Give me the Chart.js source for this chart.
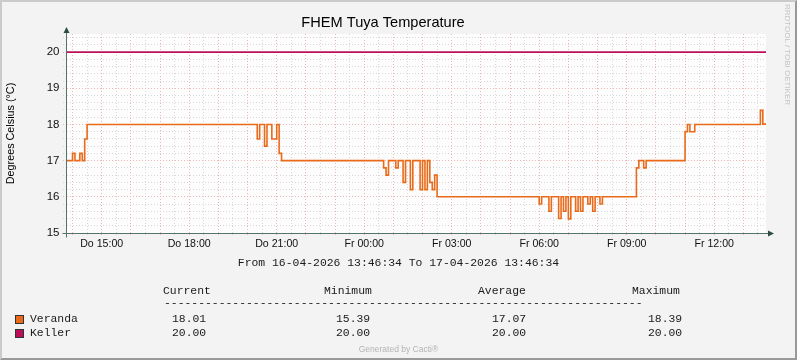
<!DOCTYPE html>
<html lang="de">
<head>
    <meta charset="UTF-8">
    <title>FHEM Tuya Temperature</title>
    <script src="https://cdn.jsdelivr.net/npm/chart.js"></script>
    <style>
        body {
            margin: 0;
            background-color: #f3f3f3;
        }
        #wrap {
            position: relative;
            width: 797px;
            height: 360px;
            overflow: hidden;
            background-color: #f3f3f3;
        }
        #chart {
            position: absolute;
            left: 0;
            top: 0;
        }
        .frame {
            position: absolute;
            left: 0;
            top: 0;
            width: 797px;
            height: 360px;
            box-sizing: border-box;
            border-top: 2px solid #cbcbcb;
            border-left: 2px solid #cbcbcb;
            border-right: 2px solid #999999;
            border-bottom: 2px solid #999999;
            pointer-events: none;
        }
        .mono {
            position: absolute;
            font-family: "Liberation Mono", "DejaVu Sans Mono", monospace;
            font-size: 11.4px;
            line-height: 14px;
            height: 14px;
            color: #1a1a1a;
            white-space: pre;
        }
        .swatch {
            position: absolute;
            width: 7px;
            height: 7px;
            border: 1px solid #333;
        }
        #cacti {
            position: absolute;
            left: 0;
            width: 797px;
            top: 344px;
            text-align: center;
            font-family: "Liberation Sans", Arial, sans-serif;
            font-size: 8.5px;
            line-height: 10px;
            color: #b4b4b4;
        }
        #rrd {
            position: absolute;
            left: 783px;
            top: 4px;
            writing-mode: vertical-rl;
            font-family: "Liberation Sans", Arial, sans-serif;
            font-size: 8px;
            line-height: 9px;
            color: #c4c4c4;
        }
    </style>
</head>
<body>
<div id="wrap">
    <canvas id="chart" width="797" height="360"></canvas>

    <div class="mono" style="left:0; width:797px; text-align:center; top:256px;">From 16-04-2026 13:46:34 To 17-04-2026 13:46:34</div>

    <div class="mono" style="left:163px; top:284px;">Current</div>
    <div class="mono" style="left:324px; top:284px;">Minimum</div>
    <div class="mono" style="left:478px; top:284px;">Average</div>
    <div class="mono" style="left:632px; top:284px;">Maximum</div>
    <div class="mono" id="dashes" style="left:164px; top:296px;"></div>

    <div class="swatch" id="swVeranda" style="left:15px; top:315px;"></div>
    <div class="mono" style="left:30px; top:312px;">Veranda</div>
    <div class="mono" style="left:172px; top:312px;">18.01</div>
    <div class="mono" style="left:336px; top:312px;">15.39</div>
    <div class="mono" style="left:492px; top:312px;">17.07</div>
    <div class="mono" style="left:648px; top:312px;">18.39</div>

    <div class="swatch" id="swKeller" style="left:15px; top:329px;"></div>
    <div class="mono" style="left:30px; top:326px;">Keller</div>
    <div class="mono" style="left:172px; top:326px;">20.00</div>
    <div class="mono" style="left:336px; top:326px;">20.00</div>
    <div class="mono" style="left:492px; top:326px;">20.00</div>
    <div class="mono" style="left:648px; top:326px;">20.00</div>

    <div id="cacti">Generated by Cacti®</div>
    <div id="rrd">RRDTOOL / TOBI OETIKER</div>
    <div class="frame"></div>
</div>

<script>
    // time in minutes since Do 00:00 (16-04-2026)
    const startMin = 826.57;   // 13:46:34
    const endMin = 2266.57;    // Fr 13:46:34

    // Veranda: value changes (step line, value holds until next time)
    const verandaTimes = [
        826.57, 840, 845, 855, 860, 865, 870,
        1220, 1225, 1235, 1240, 1250, 1260, 1265, 1270,
        1480, 1485, 1490, 1505, 1510, 1520, 1525, 1535, 1540,
        1555, 1560, 1565, 1570, 1575, 1580, 1585, 1590,
        1800, 1805, 1820, 1825, 1840, 1845, 1850, 1855, 1860, 1865,
        1875, 1880, 1885, 1890, 1900, 1905, 1910, 1915, 1925, 1930,
        2000, 2005, 2015, 2020,
        2100, 2105, 2110, 2120,
        2255, 2260, 2266.57
    ];
    const veranda = [
        17.0, 17.2, 17.0, 17.2, 17.0, 17.6, 18.0,
        17.6, 18.0, 17.4, 18.0, 17.6, 18.0, 17.2, 17.0,
        16.8, 16.6, 17.0, 16.8, 17.0, 16.4, 17.0, 16.2, 17.0,
        16.2, 17.0, 16.2, 17.0, 16.4, 16.2, 16.6, 16.0,
        15.8, 16.0, 15.6, 16.0, 15.4, 16.0, 15.6, 16.0, 15.39, 16.0,
        15.6, 16.0, 15.6, 16.0, 15.8, 16.0, 15.6, 16.0, 15.8, 16.0,
        16.8, 17.0, 16.8, 17.0,
        17.8, 18.0, 17.8, 18.0,
        18.39, 18.01, 18.01
    ];

    const kellerTimes = [826.57, 2266.57];
    const keller = [20.0, 20.0];

    // labelled ticks
    const xTickTimes = [900, 1080, 1260, 1440, 1620, 1800, 1980, 2160];
    const xTickLabels = ['Do 15:00', 'Do 18:00', 'Do 21:00', 'Fr 00:00', 'Fr 03:00', 'Fr 06:00', 'Fr 09:00', 'Fr 12:00'];
    const yTickLabels = [15, 16, 17, 18, 19, 20];

    const verandaColor = '#ea6a1a';
    const kellerColor = '#bb0f5a';
    const axisColor = '#557468';
    const arrowColor = '#2c4d43';
    const minorGrid = '#d8d8d8';
    const majorGrid = '#f0b4b4';

    // legend stuff below the graph
    document.getElementById('dashes').textContent = '-'.repeat(70);
    document.getElementById('swVeranda').style.background = verandaColor;
    document.getElementById('swKeller').style.background = kellerColor;

    const plotBackground = {
        id: 'plotBackground',
        beforeDraw(chart) {
            const {ctx, chartArea: a} = chart;
            ctx.save();
            ctx.fillStyle = '#fdfdfd';
            ctx.fillRect(a.left, a.top, a.right - a.left, a.bottom - a.top);
            ctx.restore();
        }
    };

    // rrdtool style axis arrows
    const axisArrows = {
        id: 'axisArrows',
        afterDraw(chart) {
            const {ctx, chartArea: a} = chart;
            const x0 = Math.round(a.left) + 0.5;
            const y0 = Math.round(a.bottom) + 0.5;
            ctx.save();
            ctx.strokeStyle = axisColor;
            ctx.lineWidth = 1;
            ctx.beginPath();
            ctx.moveTo(x0, y0 + 4);
            ctx.lineTo(x0, a.top - 3);
            ctx.moveTo(x0 - 4, y0);
            ctx.lineTo(a.right + 4, y0);
            ctx.stroke();
            ctx.fillStyle = arrowColor;
            ctx.beginPath();
            ctx.moveTo(x0, a.top - 7);
            ctx.lineTo(x0 - 3, a.top - 1);
            ctx.lineTo(x0 + 3, a.top - 1);
            ctx.closePath();
            ctx.fill();
            ctx.beginPath();
            ctx.moveTo(a.right + 8, y0);
            ctx.lineTo(a.right + 2, y0 - 3);
            ctx.lineTo(a.right + 2, y0 + 3);
            ctx.closePath();
            ctx.fill();
            ctx.restore();
        }
    };

    new Chart(document.getElementById('chart'), {
        type: 'line',
        data: {
            datasets: [
                {
                    label: 'Veranda',
                    data: verandaTimes.map((t, i) => ({ x: t, y: veranda[i] })),
                    borderColor: verandaColor,
                    borderWidth: 1.6,
                    pointRadius: 0,
                    stepped: true,
                    fill: false
                },
                {
                    label: 'Keller',
                    data: kellerTimes.map((t, i) => ({ x: t, y: keller[i] })),
                    borderColor: kellerColor,
                    borderWidth: 1.6,
                    pointRadius: 0,
                    fill: false
                }
            ]
        },
        options: {
            responsive: false,
            animation: false,
            devicePixelRatio: 1,
            layout: { padding: { left: 0, right: 31, top: 0, bottom: 0 } },
            plugins: {
                legend: { display: false },
                tooltip: { enabled: false },
                title: {
                    display: true,
                    text: 'FHEM Tuya Temperature',
                    color: '#000',
                    font: { family: '"Liberation Sans", Arial, sans-serif', size: 14.6, weight: 'normal', lineHeight: 1 },
                    padding: { top: 15.2, bottom: 4.2 }
                }
            },
            scales: {
                x: {
                    type: 'linear',
                    min: startMin,
                    max: endMin,
                    afterBuildTicks: scale => {
                        const ticks = [];
                        for (let m = 840; m < endMin; m += 30) ticks.push({ value: m });
                        scale.ticks = ticks;
                    },
                    afterFit: scale => { scale.height = 127; },
                    ticks: {
                        autoSkip: false,
                        maxRotation: 0,
                        padding: 1.6,
                        color: '#111',
                        font: { family: '"Liberation Sans", Arial, sans-serif', size: 10.6 },
                        callback: value => {
                            const i = xTickTimes.indexOf(value);
                            return i >= 0 ? xTickLabels[i] : '';
                        }
                    },
                    grid: {
                        color: ctx => (ctx.tick && ctx.tick.value % 60 === 0) ? majorGrid : minorGrid,
                        tickColor: ctx => (ctx.tick && ctx.tick.value % 60 === 0) ? majorGrid : minorGrid,
                        tickLength: 3,
                        tickBorderDash: [1, 2],
                        lineWidth: 1
                    },
                    border: { display: true, color: axisColor, dash: [1, 2] }
                },
                y: {
                    min: 15,
                    max: 20.5,
                    afterBuildTicks: scale => {
                        const ticks = [];
                        for (let i = 0; i <= 27; i++) ticks.push({ value: Math.round((15 + i * 0.2) * 10) / 10 });
                        scale.ticks = ticks;
                    },
                    afterFit: scale => { scale.width = 66; },
                    title: {
                        display: true,
                        text: 'Degrees Celsius (°C)',
                        color: '#000',
                        font: { family: '"Liberation Sans", Arial, sans-serif', size: 10.8 },
                        padding: { top: 4.5, bottom: 0 }
                    },
                    ticks: {
                        autoSkip: false,
                        padding: 3.5,
                        color: '#111',
                        font: { family: '"Liberation Sans", Arial, sans-serif', size: 11.5 },
                        callback: value => yTickLabels.includes(value) ? String(value) : ''
                    },
                    grid: {
                        color: ctx => (ctx.tick && Number.isInteger(ctx.tick.value)) ? majorGrid : minorGrid,
                        tickColor: ctx => (ctx.tick && Number.isInteger(ctx.tick.value)) ? majorGrid : minorGrid,
                        tickLength: 3,
                        tickBorderDash: [1, 2],
                        lineWidth: 1
                    },
                    border: { display: true, color: axisColor, dash: [1, 2] }
                }
            }
        },
        plugins: [plotBackground, axisArrows]
    });
</script>
</body>
</html>
